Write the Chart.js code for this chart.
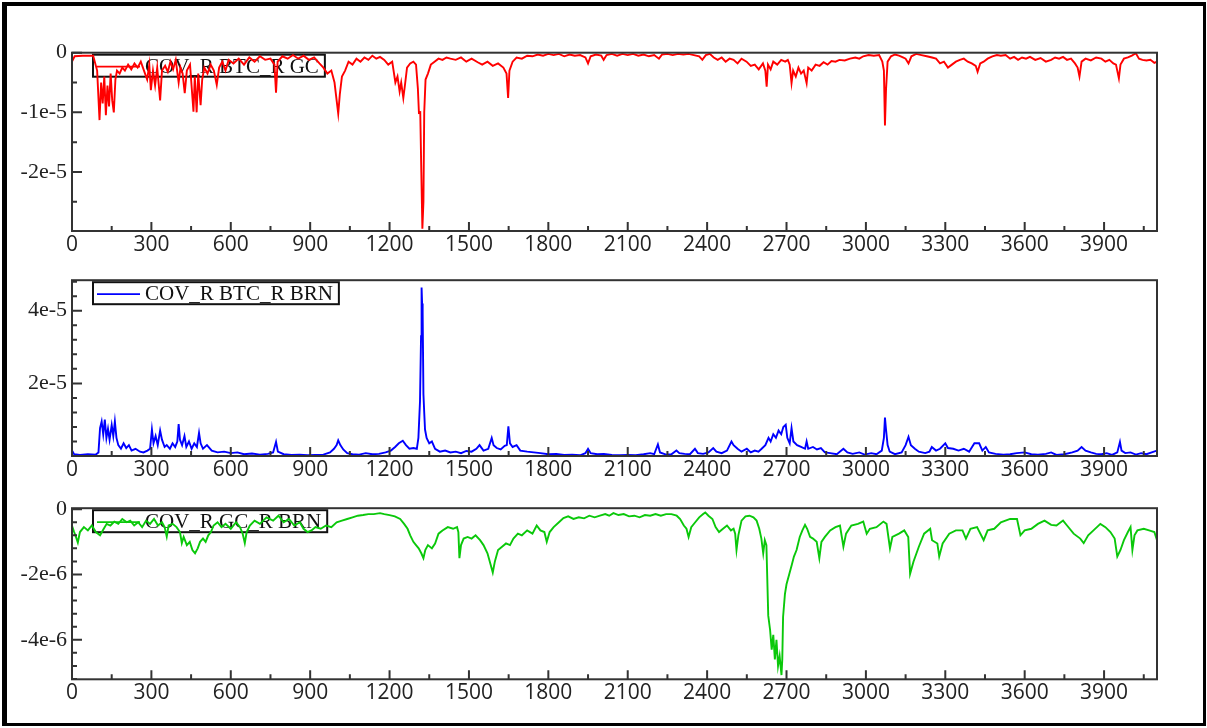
<!DOCTYPE html>
<html>
<head>
<meta charset="utf-8">
<script src="https://cdn.jsdelivr.net/npm/chart.js@4.4.1/dist/chart.umd.min.js"></script>
<style>
  body { margin: 0; background: #fff; }
  #frame {
    position: absolute; left: 2px; top: 2px; width: 1204px; height: 724px;
    box-sizing: border-box; border-style: solid; border-color: #000;
    border-width: 4px 3px 3px 5px;
  }
  canvas { position: absolute; left: 0; }
</style>
</head>
<body>
<div id="frame"></div>
<canvas id="covBtcGc" width="1207" height="240" style="top:30px"></canvas>
<canvas id="covBtcBrn" width="1207" height="225" style="top:262px"></canvas>
<canvas id="covGcBrn" width="1207" height="228" style="top:490px"></canvas>
<script>
// [day, covariance] pairs; btcGc and btcBrn in units of 1e-5, gcBrn in 1e-6
const btcGc = [
  [0,-0.15],[10,-0.06],[40,-0.05],[80,-0.05],[95,-0.3],[104,-1.13],[110,-0.5],[116,-0.85],
  [122,-0.4],[128,-1.05],[134,-0.55],[140,-0.9],[146,-0.35],[152,-0.8],[158,-1.0],[164,-0.45],
  [170,-0.3],[180,-0.35],[190,-0.25],[200,-0.3],[212,-0.2],[224,-0.28],[236,-0.18],[248,-0.25],
  [260,-0.15],[272,-0.3],[284,-0.45],[292,-0.2],[298,-0.63],[306,-0.3],[314,-0.55],[322,-0.25],
  [333,-0.8],[340,-0.3],[352,-0.22],[362,-0.32],[372,-0.15],[382,-0.28],[392,-0.12],[403,-0.5],
  [410,-0.25],[418,-0.35],[426,-0.68],[434,-0.3],[446,-0.2],[459,-0.99],[464,-0.4],[471,-1.0],
  [477,-0.35],[486,-0.88],[492,-0.45],[500,-0.25],[512,-0.35],[524,-0.2],[536,-0.3],[547,-0.54],
  [556,-0.25],[568,-0.15],[580,-0.3],[592,-0.12],[610,-0.18],[630,-0.1],[650,-0.2],[670,-0.08],
  [690,-0.15],[710,-0.06],[730,-0.12],[750,-0.1],[765,-0.2],[771,-0.67],[777,-0.15],[795,-0.06],
  [815,-0.1],[835,-0.04],[855,-0.1],[875,-0.05],[895,-0.12],[915,-0.08],[935,-0.18],[950,-0.25],
  [965,-0.35],[980,-0.3],[992,-0.5],[1000,-0.8],[1006,-1.02],[1012,-0.7],[1020,-0.4],[1032,-0.3],
  [1045,-0.15],[1060,-0.2],[1075,-0.1],[1090,-0.15],[1105,-0.08],[1120,-0.12],[1135,-0.05],[1150,-0.1],
  [1164,-0.07],[1180,-0.12],[1195,-0.2],[1210,-0.15],[1222,-0.5],[1230,-0.4],[1238,-0.65],[1244,-0.5],
  [1252,-0.76],[1258,-0.55],[1266,-0.25],[1278,-0.18],[1290,-0.15],[1300,-0.2],[1307,-0.6],[1311,-1.01],
  [1316,-1.0],[1320,-2.0],[1324,-2.95],[1328,-2.5],[1331,-1.0],[1336,-0.45],[1345,-0.35],[1356,-0.2],
  [1370,-0.15],[1385,-0.1],[1400,-0.12],[1415,-0.08],[1430,-0.1],[1450,-0.12],[1470,-0.08],[1490,-0.15],
  [1510,-0.1],[1533,-0.16],[1550,-0.2],[1570,-0.15],[1590,-0.22],[1610,-0.18],[1630,-0.25],[1642,-0.35],
  [1648,-0.76],[1653,-0.3],[1665,-0.15],[1680,-0.08],[1700,-0.1],[1720,-0.05],[1740,-0.06],[1760,-0.03],
  [1780,-0.05],[1800,-0.02],[1820,-0.04],[1840,-0.02],[1860,-0.06],[1880,-0.03],[1900,-0.05],[1920,-0.04],
  [1940,-0.08],[1950,-0.18],[1960,-0.06],[1980,-0.03],[2000,-0.05],[2009,-0.12],[2020,-0.04],[2040,-0.02],
  [2060,-0.05],[2080,-0.02],[2100,-0.04],[2120,-0.02],[2140,-0.05],[2160,-0.03],[2180,-0.06],[2200,-0.04],
  [2218,-0.1],[2230,-0.03],[2250,-0.02],[2270,-0.04],[2290,-0.02],[2310,-0.03],[2330,-0.02],[2350,-0.04],
  [2370,-0.06],[2382,-0.12],[2395,-0.04],[2410,-0.02],[2425,-0.08],[2440,-0.12],[2455,-0.08],[2470,-0.15],
  [2485,-0.1],[2500,-0.12],[2515,-0.18],[2530,-0.1],[2549,-0.15],[2565,-0.22],[2580,-0.2],[2595,-0.28],
  [2611,-0.18],[2620,-0.3],[2625,-0.57],[2630,-0.2],[2640,-0.28],[2650,-0.15],[2665,-0.2],[2680,-0.12],
  [2695,-0.15],[2705,-0.12],[2712,-0.2],[2719,-0.51],[2725,-0.3],[2735,-0.4],[2745,-0.25],[2755,-0.35],
  [2765,-0.3],[2776,-0.51],[2782,-0.25],[2795,-0.3],[2810,-0.2],[2825,-0.22],[2840,-0.16],[2855,-0.2],
  [2870,-0.14],[2885,-0.15],[2900,-0.12],[2920,-0.13],[2940,-0.1],[2960,-0.08],[2975,-0.1],[2990,-0.06],
  [3010,-0.04],[3030,-0.05],[3050,-0.04],[3062,-0.15],[3068,-0.3],[3072,-1.22],[3076,-0.62],[3082,-0.15],
  [3095,-0.06],[3110,-0.03],[3125,-0.05],[3140,-0.08],[3150,-0.1],[3161,-0.18],[3172,-0.06],[3190,-0.02],
  [3210,-0.04],[3230,-0.06],[3250,-0.08],[3265,-0.1],[3280,-0.18],[3295,-0.15],[3310,-0.25],[3325,-0.2],
  [3340,-0.15],[3355,-0.12],[3370,-0.1],[3385,-0.15],[3400,-0.18],[3415,-0.22],[3422,-0.32],[3432,-0.18],
  [3445,-0.15],[3460,-0.1],[3478,-0.06],[3495,-0.04],[3510,-0.05],[3528,-0.04],[3545,-0.1],[3560,-0.07],
  [3575,-0.12],[3590,-0.08],[3605,-0.1],[3620,-0.07],[3640,-0.12],[3660,-0.09],[3680,-0.15],[3700,-0.12],
  [3715,-0.08],[3730,-0.1],[3745,-0.07],[3760,-0.12],[3775,-0.1],[3790,-0.18],[3800,-0.25],[3807,-0.4],
  [3815,-0.15],[3830,-0.1],[3850,-0.13],[3870,-0.08],[3890,-0.1],[3905,-0.15],[3920,-0.12],[3935,-0.18],
  [3945,-0.2],[3956,-0.43],[3962,-0.2],[3975,-0.1],[3990,-0.08],[4005,-0.05],[4020,-0.01],[4032,-0.1],
  [4045,-0.12],[4060,-0.13],[4075,-0.12],[4090,-0.17],[4100,-0.15]
];

const btcBrn = [
  [0,0.15],[8,0.05],[30,0.03],[60,0.05],[90,0.04],[100,0.1],[106,0.77],[112,0.95],
  [118,0.6],[124,1.0],[130,0.5],[136,0.75],[142,0.45],[150,0.85],[156,0.55],[162,0.95],
  [168,0.5],[175,0.3],[185,0.2],[195,0.35],[205,0.22],[215,0.3],[225,0.15],[240,0.2],
  [257,0.12],[270,0.1],[285,0.15],[295,0.2],[302,0.73],[308,0.35],[316,0.55],[324,0.3],
  [333,0.7],[340,0.45],[350,0.25],[358,0.3],[370,0.2],[380,0.35],[390,0.25],[398,0.4],
  [403,0.88],[408,0.45],[416,0.3],[425,0.55],[432,0.25],[442,0.4],[452,0.2],[462,0.35],
  [472,0.25],[480,0.64],[486,0.35],[495,0.2],[510,0.3],[528,0.15],[550,0.1],[575,0.12],
  [600,0.08],[625,0.1],[650,0.05],[680,0.07],[710,0.04],[740,0.06],[760,0.1],[771,0.39],
  [778,0.12],[800,0.05],[830,0.03],[860,0.04],[890,0.02],[920,0.03],[950,0.04],[975,0.1],
  [990,0.2],[1000,0.3],[1006,0.43],[1014,0.3],[1025,0.18],[1040,0.08],[1060,0.05],[1085,0.04],
  [1110,0.08],[1135,0.05],[1160,0.06],[1185,0.1],[1205,0.15],[1221,0.25],[1235,0.35],[1250,0.42],
  [1262,0.3],[1275,0.2],[1290,0.22],[1303,0.2],[1309,0.5],[1315,1.5],[1319,3.3],[1321,4.64],
  [1323,4.2],[1325,3.96],[1328,1.7],[1331,1.2],[1334,0.73],[1340,0.5],[1350,0.35],[1360,0.4],
  [1372,0.2],[1390,0.12],[1410,0.15],[1430,0.1],[1450,0.12],[1470,0.08],[1490,0.14],[1510,0.12],
  [1528,0.2],[1540,0.3],[1555,0.15],[1573,0.2],[1586,0.5],[1593,0.3],[1605,0.22],[1620,0.18],
  [1635,0.28],[1643,0.3],[1649,0.82],[1655,0.35],[1665,0.25],[1680,0.3],[1694,0.15],[1720,0.12],
  [1745,0.1],[1770,0.08],[1800,0.05],[1830,0.06],[1860,0.03],[1890,0.04],[1920,0.02],[1940,0.08],
  [1950,0.2],[1960,0.08],[1985,0.05],[2010,0.06],[2040,0.03],[2070,0.02],[2100,0.03],[2130,0.02],
  [2160,0.05],[2185,0.08],[2200,0.05],[2214,0.32],[2222,0.1],[2245,0.04],[2265,0.05],[2284,0.15],
  [2295,0.08],[2315,0.06],[2335,0.05],[2354,0.2],[2365,0.08],[2385,0.06],[2405,0.1],[2423,0.22],
  [2435,0.12],[2455,0.08],[2475,0.15],[2492,0.4],[2500,0.3],[2515,0.2],[2530,0.12],[2550,0.2],
  [2565,0.1],[2580,0.15],[2594,0.12],[2606,0.2],[2620,0.3],[2632,0.5],[2640,0.4],[2650,0.6],
  [2660,0.5],[2670,0.7],[2680,0.6],[2688,0.8],[2697,0.86],[2703,0.5],[2712,0.35],[2719,0.77],
  [2726,0.4],[2740,0.3],[2755,0.25],[2770,0.2],[2776,0.4],[2782,0.2],[2800,0.25],[2815,0.18],
  [2830,0.22],[2845,0.1],[2865,0.08],[2890,0.05],[2915,0.2],[2930,0.1],[2950,0.06],[2975,0.1],
  [2995,0.04],[3020,0.08],[3040,0.05],[3060,0.15],[3068,0.5],[3072,1.06],[3076,0.73],[3082,0.3],
  [3090,0.12],[3110,0.05],[3135,0.1],[3150,0.3],[3161,0.53],[3170,0.3],[3185,0.2],[3200,0.12],
  [3224,0.08],[3240,0.12],[3249,0.25],[3265,0.15],[3280,0.2],[3300,0.35],[3310,0.22],[3330,0.2],
  [3350,0.15],[3370,0.2],[3390,0.12],[3410,0.35],[3428,0.35],[3440,0.15],[3453,0.25],[3465,0.1],
  [3490,0.06],[3520,0.04],[3545,0.05],[3570,0.08],[3600,0.1],[3625,0.05],[3650,0.04],[3680,0.06],
  [3700,0.1],[3720,0.03],[3750,0.05],[3780,0.1],[3800,0.15],[3815,0.25],[3830,0.15],[3850,0.1],
  [3870,0.06],[3890,0.05],[3910,0.08],[3930,0.03],[3950,0.1],[3960,0.39],[3966,0.15],[3980,0.08],
  [4000,0.1],[4020,0.04],[4040,0.08],[4060,0.05],[4080,0.1],[4100,0.15]
];

const gcBrn = [
  [0,-0.51],[8,-0.7],[15,-0.85],[22,-1.02],[30,-0.7],[45,-0.55],[60,-0.65],[75,-0.5],
  [90,-0.7],[106,-0.8],[120,-0.6],[131,-0.45],[145,-0.5],[160,-0.38],[175,-0.45],[190,-0.3],
  [207,-0.4],[220,-0.35],[235,-0.5],[250,-0.4],[265,-0.55],[280,-0.35],[295,-0.45],[310,-0.3],
  [325,-0.5],[340,-0.4],[350,-0.55],[358,-0.84],[365,-0.5],[380,-0.45],[395,-0.55],[408,-0.7],
  [415,-1.04],[422,-0.85],[434,-1.1],[445,-1.0],[455,-1.25],[465,-1.35],[475,-1.2],[484,-1.0],
  [495,-0.9],[505,-1.0],[515,-0.8],[525,-0.7],[535,-0.5],[550,-0.4],[565,-0.55],[580,-0.45],
  [600,-0.6],[620,-0.4],[635,-0.55],[645,-0.75],[653,-1.04],[660,-0.7],[672,-0.5],[690,-0.35],
  [710,-0.45],[735,-0.25],[760,-0.35],[780,-0.2],[800,-0.4],[820,-0.3],[840,-0.5],[861,-0.4],
  [875,-0.6],[890,-0.7],[905,-0.65],[920,-0.55],[940,-0.6],[960,-0.5],[980,-0.55],[1000,-0.4],
  [1020,-0.35],[1040,-0.3],[1060,-0.25],[1080,-0.2],[1100,-0.18],[1120,-0.15],[1140,-0.15],[1164,-0.12],
  [1180,-0.15],[1200,-0.18],[1220,-0.22],[1240,-0.3],[1255,-0.45],[1268,-0.6],[1278,-0.8],[1290,-1.0],
  [1300,-1.1],[1310,-1.2],[1320,-1.35],[1328,-1.5],[1335,-1.25],[1345,-1.1],[1360,-1.2],[1372,-1.05],
  [1385,-0.75],[1400,-0.65],[1420,-0.55],[1440,-0.6],[1455,-0.55],[1460,-0.7],[1464,-1.5],[1470,-1.1],
  [1480,-0.9],[1495,-0.85],[1510,-0.9],[1525,-0.8],[1542,-0.95],[1555,-1.1],[1570,-1.35],[1582,-1.7],
  [1590,-1.94],[1598,-1.6],[1610,-1.25],[1625,-1.15],[1640,-1.05],[1655,-1.1],[1668,-0.9],[1685,-0.75],
  [1700,-0.8],[1720,-0.65],[1740,-0.75],[1756,-0.5],[1770,-0.65],[1785,-0.7],[1794,-1.0],[1805,-0.7],
  [1820,-0.55],[1840,-0.4],[1857,-0.27],[1875,-0.22],[1895,-0.3],[1915,-0.25],[1935,-0.28],[1955,-0.2],
  [1975,-0.25],[1995,-0.2],[2015,-0.15],[2030,-0.2],[2046,-0.12],[2065,-0.18],[2085,-0.15],[2105,-0.22],
  [2125,-0.2],[2145,-0.25],[2165,-0.18],[2185,-0.2],[2205,-0.15],[2225,-0.2],[2245,-0.15],[2265,-0.15],
  [2285,-0.2],[2298,-0.3],[2312,-0.5],[2322,-0.6],[2330,-0.85],[2340,-0.55],[2355,-0.4],[2370,-0.25],
  [2385,-0.15],[2393,-0.1],[2405,-0.2],[2420,-0.3],[2432,-0.55],[2445,-0.7],[2460,-0.6],[2475,-0.5],
  [2490,-0.65],[2500,-0.6],[2506,-0.75],[2511,-1.25],[2518,-0.8],[2530,-0.35],[2545,-0.22],[2560,-0.2],
  [2575,-0.25],[2587,-0.35],[2597,-0.6],[2605,-0.9],[2612,-1.35],[2618,-0.95],[2624,-1.1],[2631,-3.26],
  [2638,-3.7],[2644,-4.3],[2650,-3.85],[2656,-4.6],[2662,-4.0],[2668,-4.8],[2674,-4.5],[2681,-5.08],
  [2684,-4.6],[2687,-3.3],[2694,-2.6],[2700,-2.3],[2710,-2.0],[2720,-1.7],[2728,-1.45],[2738,-1.25],
  [2750,-0.85],[2760,-0.65],[2770,-0.48],[2778,-0.6],[2789,-0.85],[2800,-0.9],[2814,-1.0],[2824,-1.5],
  [2832,-1.0],[2845,-0.85],[2865,-0.65],[2885,-0.55],[2902,-0.5],[2915,-1.15],[2925,-0.75],[2945,-0.5],
  [2970,-0.45],[2990,-0.38],[3003,-0.75],[3015,-0.6],[3040,-0.55],[3066,-0.38],[3078,-0.45],[3091,-1.2],
  [3100,-0.85],[3125,-0.75],[3145,-0.65],[3160,-0.85],[3167,-1.98],[3180,-1.6],[3200,-1.15],[3220,-0.75],
  [3243,-0.6],[3250,-0.95],[3270,-1.05],[3277,-1.45],[3290,-1.05],[3315,-0.75],[3340,-0.65],[3365,-0.65],
  [3378,-0.9],[3395,-0.6],[3420,-0.55],[3445,-0.95],[3460,-0.65],[3485,-0.6],[3510,-0.4],[3545,-0.3],
  [3558,-0.3],[3571,-0.3],[3584,-0.8],[3600,-0.65],[3625,-0.6],[3650,-0.45],[3675,-0.35],[3700,-0.48],
  [3720,-0.5],[3745,-0.35],[3760,-0.5],[3785,-0.75],[3810,-0.9],[3823,-1.04],[3840,-0.8],[3860,-0.65],
  [3886,-0.45],[3905,-0.55],[3924,-0.7],[3940,-0.9],[3950,-1.45],[3962,-1.25],[3975,-0.95],[3990,-0.7],
  [4000,-0.55],[4007,-1.25],[4015,-0.8],[4026,-0.65],[4050,-0.6],[4070,-0.65],[4090,-0.7],[4100,-0.95]
];

const xTickStep = 300;
const xMinorStep = 150;

// "-1e-5" style labels, plain "0" at zero
function sciLabel(v) {
  if (Math.abs(v) < 1e-12) return '0';
  const e = Math.floor(Math.log10(Math.abs(v)) + 1e-9);
  return Math.round(v / Math.pow(10, e)) + 'e' + e;
}

// boxed legend in the upper left of the plot, drawn underneath the line
const boxLegend = {
  id: 'boxLegend',
  beforeDatasetsDraw(chart) {
    const { ctx, chartArea: a } = chart;
    const ds = chart.data.datasets[0];
    ctx.save();
    ctx.font = '21px "Liberation Serif"';
    const left = a.left + 21, top = a.top + 2, h = 22;
    const textX = left + 52;
    const w = textX + ctx.measureText(ds.label).width + 6 - left;
    ctx.fillStyle = '#fff';
    ctx.fillRect(left, top, w, h);
    ctx.fillStyle = '#111';
    ctx.textBaseline = 'alphabetic';
    ctx.fillText(ds.label, textX, top + h - 4);
    ctx.lineWidth = 2;
    ctx.strokeStyle = '#111';
    ctx.strokeRect(left, top, w, h);
    ctx.strokeStyle = ds.borderColor;
    ctx.lineWidth = 1.8;
    ctx.beginPath();
    ctx.moveTo(left + 4, top + h / 2 + 1);
    ctx.lineTo(left + 47, top + h / 2 + 1);
    ctx.stroke();
    ctx.restore();
  }
};

// plot box with inward tick marks on the left and bottom edges
const plotFrame = {
  id: 'plotFrame',
  afterDraw(chart, args, opts) {
    const { ctx, chartArea: a, scales: { x, y } } = chart;
    ctx.save();
    ctx.strokeStyle = '#333';
    ctx.lineWidth = 2;
    ctx.strokeRect(a.left, a.top, a.right - a.left, a.bottom - a.top);
    ctx.beginPath();
    for (let v = 0; v <= x.max; v += xMinorStep) {
      const px = x.getPixelForValue(v);
      const len = v % xTickStep === 0 ? 9 : 5;
      ctx.moveTo(px, a.bottom);
      ctx.lineTo(px, a.bottom - len);
    }
    for (let k = Math.ceil(y.min / opts.minor); k * opts.minor <= y.max + opts.minor * 1e-6; k++) {
      const py = y.getPixelForValue(k * opts.minor);
      const len = k % opts.perMajor === 0 ? 10 : 5;
      ctx.moveTo(a.left, py);
      ctx.lineTo(a.left + len, py);
    }
    ctx.stroke();
    ctx.restore();
  }
};

function covChart(id, label, color, pairs, unit, yAxis) {
  return new Chart(document.getElementById(id), {
    type: 'line',
    data: {
      datasets: [{
        label: label,
        data: pairs.map(p => ({ x: p[0], y: p[1] * unit })),
        borderColor: color,
        borderWidth: 1.9,
        pointRadius: 0,
        tension: 0,
        fill: false
      }]
    },
    options: {
      responsive: false,
      animation: false,
      events: [],
      layout: { padding: { top: yAxis.padTop, right: 50, left: 0, bottom: 0 } },
      plugins: {
        legend: { display: false },
        tooltip: { enabled: false },
        plotFrame: { minor: yAxis.minor, perMajor: yAxis.perMajor }
      },
      scales: {
        x: {
          type: 'linear',
          min: 0,
          max: 4100,
          grid: { display: false, drawTicks: false },
          border: { display: false },
          ticks: {
            stepSize: xTickStep,
            includeBounds: false,
            autoSkip: false,
            maxRotation: 0,
            padding: 1,
            color: '#222',
            font: { family: 'Open Sans', size: 21 },
            callback: v => String(v)
          },
          afterFit: s => { s.height = yAxis.xHeight; }
        },
        y: {
          min: yAxis.min,
          max: yAxis.max,
          grid: { display: false, drawTicks: false },
          border: { display: false },
          ticks: {
            stepSize: yAxis.step,
            includeBounds: false,
            padding: 5,
            color: '#222',
            font: { family: 'Liberation Serif', size: 22 },
            callback: sciLabel
          },
          afterFit: s => { s.width = 72; }
        }
      }
    },
    plugins: [boxLegend, plotFrame]
  });
}

covChart('covBtcGc', 'COV_R BTC_R GC', 'rgb(255, 0, 0)', btcGc, 1e-5, {
  min: -2.99e-5, max: 0, step: 1e-5, minor: 0.5e-5, perMajor: 2, padTop: 22.7, xHeight: 39
});
covChart('covBtcBrn', 'COV_R BTC_R BRN', 'rgb(0, 0, 255)', btcBrn, 1e-5, {
  min: 1e-8, max: 4.84e-5, step: 2e-5, minor: 0.4e-5, perMajor: 5, padTop: 14, xHeight: 31
});
covChart('covGcBrn', 'COV_R GC_R BRN', 'rgb(10, 200, 10)', gcBrn, 1e-6, {
  min: -5.21e-6, max: 3e-8, step: 2e-6, minor: 0.4e-6, perMajor: 5, padTop: 11.7, xHeight: 38.7
});
</script>
</body>
</html>
